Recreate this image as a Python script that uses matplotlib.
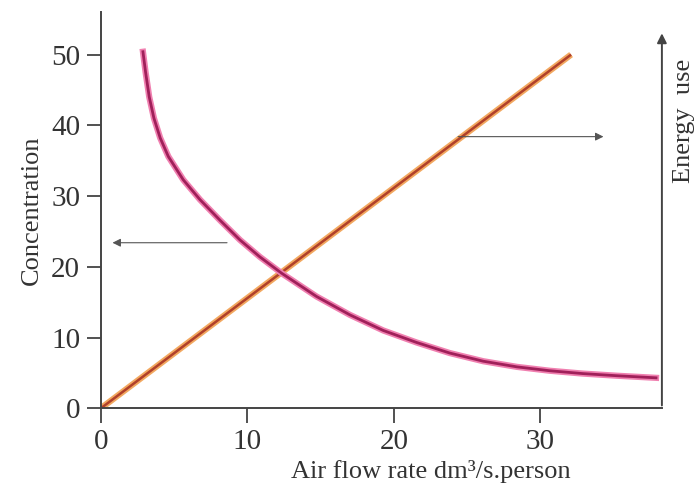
import numpy as np
import matplotlib.pyplot as plt

plt.rcParams['font.family'] = ['Liberation Serif', 'DejaVu Serif']

# energy use line (straight, from origin)
energy_x = [0, 32.1]
energy_y = [0, 50]

# concentration curve
conc_x = [2.87, 3.05, 3.3, 3.62, 4.05, 4.6, 5.62, 6.76, 8.12, 9.49, 10.85, 12.33, 14.72,
          17.0, 19.27, 21.55, 23.82, 26.1, 28.4, 30.65, 32.9, 35.2, 37.9]
conc_y = [50.4, 47.5, 44.0, 41.0, 38.2, 35.6, 32.3, 29.5, 26.6, 23.8, 21.4, 19.1, 15.8,
          13.2, 11.0, 9.3, 7.8, 6.65, 5.85, 5.3, 4.9, 4.6, 4.3]

yticks = [0, 10, 20, 30, 40, 50]
xticks = [0, 10, 20, 30]

fig = plt.figure(figsize=(6.96, 4.86), dpi=100)
ax = fig.add_axes([0.145, 0.160, 0.806, 0.815])

ax.plot(energy_x, energy_y, color='#f2a860', lw=4.5, solid_capstyle='butt')
ax.plot(energy_x, energy_y, color='#b0402a', lw=1.8, solid_capstyle='butt')
ax.plot(conc_x, conc_y, color='#f080b0', lw=4.5, solid_joinstyle='round')
ax.plot(conc_x, conc_y, color='#a0205a', lw=2.0, solid_joinstyle='round')

ax.set_xlim(0, 38.3)
ax.set_ylim(0, 56)
ax.set_xticks(xticks)
ax.set_yticks(yticks)
ax.tick_params(labelsize=21, colors='#333333', width=1.2, pad=5)
ax.tick_params(axis='y', length=10)
ax.tick_params(axis='x', length=11, pad=4)
for s in ['top', 'right']:
    ax.spines[s].set_visible(False)
for s in ['left', 'bottom']:
    ax.spines[s].set_color('#444444')
    ax.spines[s].set_linewidth(1.4)

# right axis drawn as arrow
ax.annotate('', xy=(38.3, 53.4), xytext=(38.3, 0), xycoords='data',
            arrowprops=dict(arrowstyle='-|>', color='#444444', lw=1.4, mutation_scale=14),
            annotation_clip=False)
ax.text(39.8, 40.6, 'Energy  use', rotation=90, fontsize=19, ha='center', va='center',
        color='#333333', clip_on=False)

# direction arrows
ax.annotate('', xy=(0.6, 23.4), xytext=(8.8, 23.4),
            arrowprops=dict(arrowstyle='-|>', color='#555555', lw=0.8, mutation_scale=12))
ax.annotate('', xy=(34.5, 38.4), xytext=(24.2, 38.4),
            arrowprops=dict(arrowstyle='-|>', color='#555555', lw=0.8, mutation_scale=12))

ax.set_ylabel('Concentration', fontsize=19, color='#333333', labelpad=6)
ax.text(22.5, -9.0, 'Air flow rate dm³/s.person', fontsize=19, ha='center', va='center',
        color='#333333', clip_on=False)

fig.savefig('out.png', dpi=100)
